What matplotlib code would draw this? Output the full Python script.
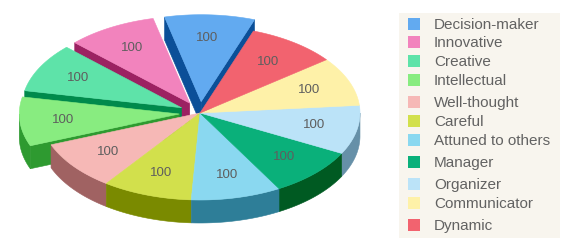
import numpy as np
import matplotlib
matplotlib.use("Agg")
import matplotlib.pyplot as plt
from matplotlib.patches import Polygon, Rectangle

# ---- data ----
categories = ["Decision-maker", "Innovative", "Creative", "Intellectual",
              "Well-thought", "Careful", "Attuned to others", "Manager",
              "Organizer", "Communicator", "Dynamic"]
values = [100, 100, 100, 100, 100, 100, 100, 100, 100, 100, 100]
exploded = [True, True, True, True, False, False, False, False, False, False, False]
top_colors = ["#62aaf0", "#f283bd", "#5ee3a9", "#88ec80", "#f6b8b6", "#d2e04c",
              "#8ad8f0", "#0ab07a", "#bbe3f8", "#fef1a8", "#f2636f"]
side_colors = ["#0b4f98", "#9c2262", "#008a4c", "#2e9a30", "#a06262", "#7a8a00",
               "#2e7e98", "#005a22", "#6690a8", "#a09a50", "#9a3040"]

plt.rcParams["font.family"] = ["Liberation Sans", "DejaVu Sans"]

# ---- geometry of the 3D pie (pixel space) ----
W, H = 570, 250
cx, cy = 200, 113
rx, ry = 160, 87
depth = 23
explode = 0.13
start_angle = 70.5

fig = plt.figure(figsize=(W / 100, H / 100), dpi=100)
ax = fig.add_axes([0, 0, 1, 1])
ax.set_xlim(0, W)
ax.set_ylim(H, 0)
ax.axis("off")

total = float(sum(values))
angles = [start_angle]
for v in values:
    angles.append(angles[-1] + 360.0 * v / total)


def pt(a, r, off, dz=0.0):
    t = np.radians(a)
    return (cx + off[0] + r * rx * np.cos(t), cy + off[1] - r * ry * np.sin(t) + dz)


slices = []
for i in range(len(values)):
    a1, a2 = angles[i], angles[i + 1]
    mid = 0.5 * (a1 + a2)
    e = explode if exploded[i] else 0.0
    off = (e * rx * np.cos(np.radians(mid)), -e * ry * np.sin(np.radians(mid)))
    slices.append((a1, a2, mid, off))

walls = []  # (pass, sort key, polygon points, color)
# radial walls of exploded slices
for i, (a1, a2, mid, off) in enumerate(slices):
    if not exploded[i]:
        continue
    for a, visible in ((a1, np.cos(np.radians(a1)) > 0), (a2, np.cos(np.radians(a2)) < 0)):
        if not visible:
            continue
        p0 = pt(a, 0, off)
        p1 = pt(a, 1, off)
        poly = [p0, p1, (p1[0], p1[1] + depth), (p0[0], p0[1] + depth)]
        walls.append((0, max(p0[1], p1[1]), poly, side_colors[i]))

# outer curved walls on the front half
for i, (a1, a2, mid, off) in enumerate(slices):
    for k in range(-1, 3):
        lo, hi = max(a1, 180 + 360 * k), min(a2, 360 + 360 * k)
        if hi <= lo:
            continue
        ts = np.linspace(lo, hi, 60)
        top = [pt(t, 1, off) for t in ts]
        bot = [(x, y + depth) for x, y in top[::-1]]
        key = max(y for _, y in top)
        walls.append((1, key, top + bot, side_colors[i]))

for _, _, poly, col in sorted(walls, key=lambda w: (w[0], w[1])):
    ax.add_patch(Polygon(poly, closed=True, facecolor=col, edgecolor=col,
                         linewidth=0.4, zorder=2))

# slice tops and value labels
for i, (a1, a2, mid, off) in enumerate(slices):
    ts = np.linspace(a1, a2, 80)
    poly = [pt(0, 0, off)] + [pt(t, 1, off) for t in ts]
    ax.add_patch(Polygon(poly, closed=True, facecolor=top_colors[i],
                         edgecolor=top_colors[i], linewidth=0.4, zorder=3))
    lx, ly = pt(mid, 0.73, off)
    ax.text(lx, ly, f"{values[i]:g}", ha="center", va="center", fontsize=9.5,
            color="#5e5e5e", zorder=4)

# ---- legend ----
ax.add_patch(Rectangle((399, 13), 161, 225, facecolor="#f8f5ee", edgecolor="none", zorder=1))
legend_rows = [23.5, 42, 61, 80, 102, 121, 140, 162, 184, 203, 225]
for name, col, y in zip(categories, top_colors, legend_rows):
    ax.add_patch(Rectangle((408, y - 6), 12, 12, facecolor=col, edgecolor="none", zorder=2))
    ax.text(434, y + 5.3, name, ha="left", va="baseline", fontsize=11,
            color="#626262", zorder=2)

fig.savefig("out.png", dpi=100)
